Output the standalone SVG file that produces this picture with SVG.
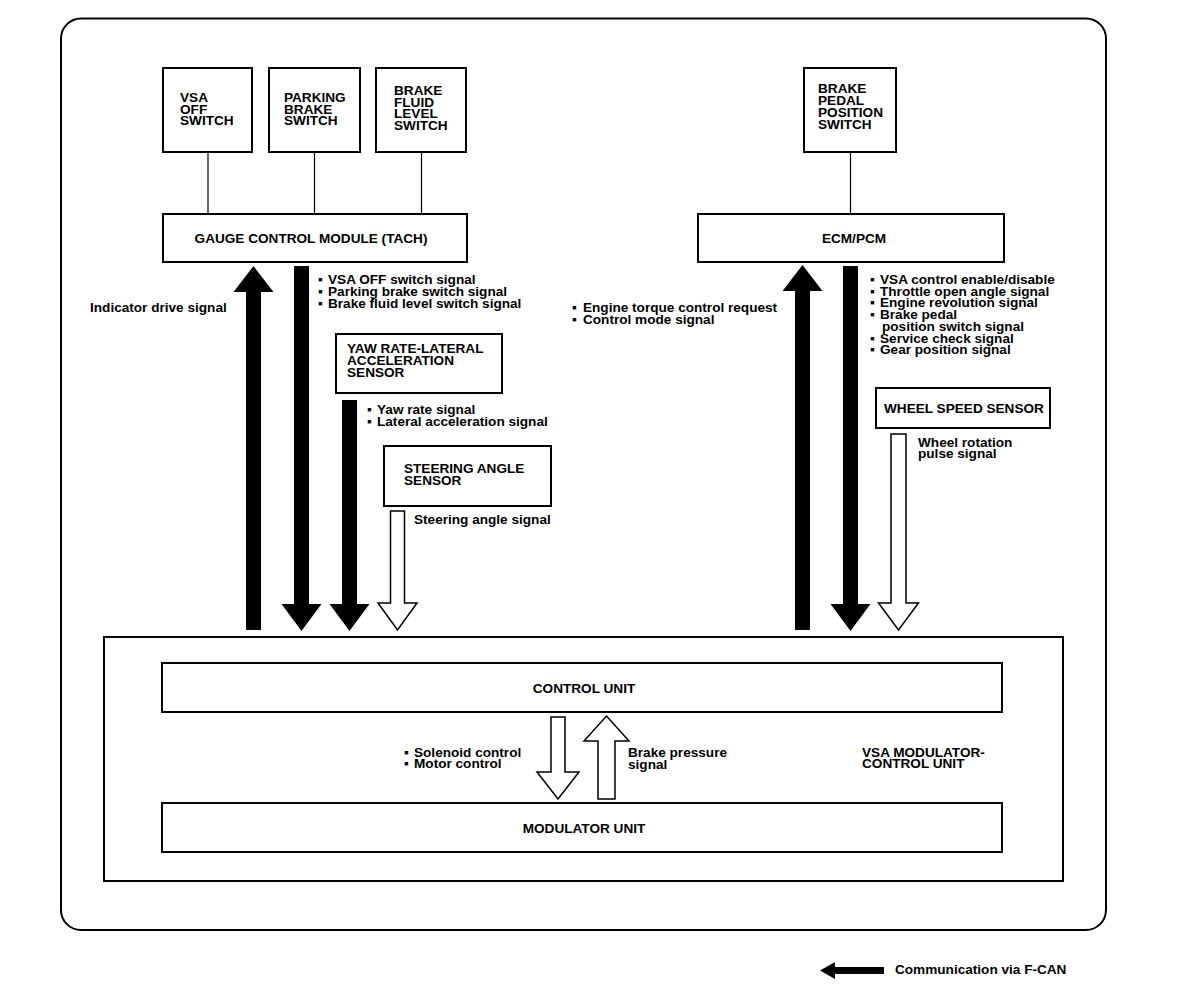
<svg xmlns="http://www.w3.org/2000/svg" width="1184" height="1004" viewBox="0 0 1184 1004">
<style>
  .box{fill:#fff;stroke:#000;stroke-width:2}
  .wire{stroke:#000;stroke-width:1.2;fill:none}
  .solid{fill:#000;stroke:none}
  .hollow{fill:#fff;stroke:#000;stroke-width:1.5;stroke-linejoin:miter}
  text{font-family:"Liberation Sans",Arial,sans-serif;font-weight:bold;font-size:13.6px;fill:#000}
  .c{text-anchor:middle}
</style>
<rect width="1184" height="1004" fill="#fff"/>
<rect x="61" y="18.5" width="1045" height="911.5" rx="20" ry="20" fill="none" stroke="#000" stroke-width="2"/>

<g id="vsa-off-switch">
  <rect class="box" x="163" y="68" width="89" height="84"/>
  <text x="180" y="102">VSA</text>
  <text x="180" y="113.5">OFF</text>
  <text x="180" y="125">SWITCH</text>
</g>
<g id="parking-brake-switch">
  <rect class="box" x="269" y="68" width="91" height="84"/>
  <text x="284" y="102">PARKING</text>
  <text x="284" y="113.5">BRAKE</text>
  <text x="284" y="125">SWITCH</text>
</g>
<g id="brake-fluid-level-switch">
  <rect class="box" x="376" y="68" width="90" height="84"/>
  <text x="394" y="95">BRAKE</text>
  <text x="394" y="106.7">FLUID</text>
  <text x="394" y="118.4">LEVEL</text>
  <text x="394" y="130">SWITCH</text>
</g>
<g id="gauge-control-module">
  <rect class="box" x="163" y="214" width="304" height="48"/>
  <text class="c" x="311" y="243">GAUGE CONTROL MODULE (TACH)</text>
</g>
<g id="brake-pedal-position-switch">
  <rect class="box" x="804" y="68" width="92" height="84"/>
  <text x="818" y="93">BRAKE</text>
  <text x="818" y="105">PEDAL</text>
  <text x="818" y="117">POSITION</text>
  <text x="818" y="129">SWITCH</text>
</g>
<g id="ecm-pcm">
  <rect class="box" x="698" y="214" width="306" height="48"/>
  <text class="c" x="854" y="243">ECM/PCM</text>
</g>
<g id="yaw-rate-sensor">
  <rect class="box" x="336" y="334" width="166" height="59"/>
  <text x="347" y="353">YAW RATE-LATERAL</text>
  <text x="347" y="365">ACCELERATION</text>
  <text x="347" y="377">SENSOR</text>
</g>
<g id="steering-angle-sensor">
  <rect class="box" x="384" y="446" width="167" height="60"/>
  <text x="404" y="473">STEERING ANGLE</text>
  <text x="404" y="485">SENSOR</text>
</g>
<g id="wheel-speed-sensor">
  <rect class="box" x="876" y="388" width="174" height="40"/>
  <text x="884" y="413">WHEEL SPEED SENSOR</text>
</g>
<g id="vsa-modulator-control-unit">
  <rect class="box" x="104" y="637" width="959" height="244"/>
  <text x="862" y="757">VSA MODULATOR-</text>
  <text x="862" y="768">CONTROL UNIT</text>
</g>
<g id="control-unit">
  <rect class="box" x="162" y="663" width="840" height="49"/>
  <text class="c" x="584" y="693">CONTROL UNIT</text>
</g>
<g id="modulator-unit">
  <rect class="box" x="162" y="803" width="840" height="49"/>
  <text class="c" x="584" y="833">MODULATOR UNIT</text>
</g>

<g id="connectors">
  <line class="wire" x1="208" y1="152" x2="208" y2="214"/>
  <line class="wire" x1="314.5" y1="152" x2="314.5" y2="214"/>
  <line class="wire" x1="421.5" y1="152" x2="421.5" y2="214"/>
  <line class="wire" x1="850.5" y1="152" x2="850.5" y2="214"/>
  <!-- indicator drive signal (up) -->
  <polygon class="solid" points="253.5,266 273.5,292 261,292 261,630 246,630 246,292 233.5,292"/>
  <!-- switch signals (down) -->
  <polygon class="solid" points="294,266 309,266 309,604 321.5,604 301.5,631 281.5,604 294,604"/>
  <!-- yaw rate (down) -->
  <polygon class="solid" points="342,400 357,400 357,604 369.5,604 349.5,631 329.5,604 342,604"/>
  <!-- steering angle (hollow down) -->
  <polygon class="hollow" points="390.5,511 404.5,511 404.5,603 417,603 397.5,630 378,603 390.5,603"/>
  <!-- engine torque (up) -->
  <polygon class="solid" points="802.5,265 822.5,291 810,291 810,630 795,630 795,291 782.5,291"/>
  <!-- ECM signals (down) -->
  <polygon class="solid" points="843,266 858,266 858,604 870.5,604 850.5,631 830.5,604 843,604"/>
  <!-- wheel speed (hollow down) -->
  <polygon class="hollow" points="891,434 906,434 906,603 918.5,603 898.5,630 878.5,603 891,603"/>
  <!-- solenoid / motor control (hollow down) -->
  <polygon class="hollow" points="551,717 565,717 565,772 579,772 558,799 537,772 551,772"/>
  <!-- brake pressure (hollow up) -->
  <polygon class="hollow" points="606.5,716 629,741 615,741 615,799 598,799 598,741 584,741"/>
</g>

<g id="signal-labels">
  <text x="90" y="312">Indicator drive signal</text>
  <text><tspan x="318" y="284">▪</tspan><tspan x="328" y="284">VSA OFF switch signal</tspan></text>
  <text><tspan x="318" y="296">▪</tspan><tspan x="328" y="296">Parking brake switch signal</tspan></text>
  <text><tspan x="318" y="308">▪</tspan><tspan x="328" y="308">Brake fluid level switch signal</tspan></text>
  <text><tspan x="367" y="414">▪</tspan><tspan x="377" y="414">Yaw rate signal</tspan></text>
  <text><tspan x="367" y="426">▪</tspan><tspan x="377" y="426">Lateral acceleration signal</tspan></text>
  <text x="414" y="524">Steering angle signal</text>
  <text><tspan x="572" y="312">▪</tspan><tspan x="583" y="312">Engine torque control request</tspan></text>
  <text><tspan x="572" y="324">▪</tspan><tspan x="583" y="324">Control mode signal</tspan></text>
  <text><tspan x="870" y="284">▪</tspan><tspan x="880" y="284">VSA control enable/disable</tspan></text>
  <text><tspan x="870" y="295.7">▪</tspan><tspan x="880" y="295.7">Throttle open angle signal</tspan></text>
  <text><tspan x="870" y="307.4">▪</tspan><tspan x="880" y="307.4">Engine revolution signal</tspan></text>
  <text><tspan x="870" y="319.1">▪</tspan><tspan x="880" y="319.1">Brake pedal</tspan></text>
  <text x="882" y="330.8">position switch signal</text>
  <text><tspan x="870" y="342.5">▪</tspan><tspan x="880" y="342.5">Service check signal</tspan></text>
  <text><tspan x="870" y="354.2">▪</tspan><tspan x="880" y="354.2">Gear position signal</tspan></text>
  <text x="918" y="447">Wheel rotation</text>
  <text x="918" y="458">pulse signal</text>
  <text><tspan x="404" y="757">▪</tspan><tspan x="414" y="757">Solenoid control</tspan></text>
  <text><tspan x="404" y="768">▪</tspan><tspan x="414" y="768">Motor control</tspan></text>
  <text x="628" y="757">Brake pressure</text>
  <text x="628" y="769">signal</text>
</g>

<g id="legend">
  <polygon class="solid" points="820,970.5 835,962 835,967 884,967 884,974 835,974 835,979"/>
  <text x="895" y="974">Communication via F-CAN</text>
</g>
</svg>
